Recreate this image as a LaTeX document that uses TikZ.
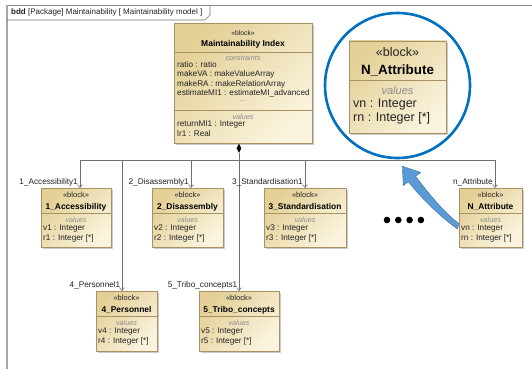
\documentclass[tikz,border=0pt]{standalone}
\usepackage{fontspec}
\setmainfont{Liberation Sans}
\usetikzlibrary{arrows.meta,shadows}
\definecolor{blkA}{RGB}{228,208,150}
\definecolor{blkB}{RGB}{250,244,222}
\definecolor{blkLine}{RGB}{168,146,100}
\definecolor{connC}{RGB}{110,110,110}
\definecolor{hlBlue}{RGB}{0,112,192}
\definecolor{arrFill}{RGB}{91,155,213}
\definecolor{arrEdge}{RGB}{65,113,156}
\definecolor{txtC}{RGB}{35,35,35}
\newcommand\sblk[8]{%
  \node[blk, minimum width=#4pt, minimum height=#5pt, anchor=north west] (#1) at (#2,#3) {};
  \draw[sepl] ([yshift=-25pt]#1.north west) -- ([yshift=-25pt]#1.north east);
  \node[stxt] (#1-st) at ([yshift=-6.5pt]#1.north) {«block»};
  \node[ttl] (#1-t) at ([yshift=-19pt]#1.north) {#6};
  \node[cmp] (#1-c) at ([yshift=-32pt]#1.north) {values};
  \node[attr] (#1-v) at ([xshift=2pt,yshift=-40.5pt]#1.north west) {v#7 : Integer};
  \node[attr] (#1-r) at ([xshift=2pt,yshift=-50.5pt]#1.north west) {r#7 : Integer [*]};
}
\begin{document}
\begin{tikzpicture}[x=1pt,y=-1pt,
  blk/.style={draw=blkLine, line width=0.6pt, top color=blkA, bottom color=blkB, shading angle=45,
    inner sep=0pt, outer sep=0pt,
    drop shadow={shadow xshift=1.6pt, shadow yshift=-1.6pt, fill=black!45, opacity=0.45}},
  sepl/.style={draw=blkLine, line width=0.6pt},
  stxt/.style={inner sep=0pt, font=\fontsize{7.5}{8}\selectfont, text=txtC},
  ttl/.style={inner sep=0pt, font=\fontsize{8.4}{9}\selectfont\bfseries, text=black},
  cmp/.style={inner sep=0pt, font=\fontsize{7.2}{8}\selectfont\itshape, text=black!45},
  attr/.style={inner sep=0pt, anchor=west, font=\fontsize{8.2}{9}\selectfont, text=txtC},
  lbl/.style={inner sep=0pt, anchor=east, font=\fontsize{8.2}{9}\selectfont, text=txtC},
  conn/.style={draw=connC, line width=0.6pt},
  arr/.style={-{Straight Barb[length=3pt,width=5pt]}},
]
\useasboundingbox (0,0) rectangle (532,369);
\fill[white] (0,0) rectangle (532,369);

% frame
\draw[black!45, line width=0.7pt] (532,5) -- (7,5);
\draw[black!35, line width=1.4pt] (7,5) -- (7,369);
\draw[black!55, line width=0.6pt] (7,20) -- (205,20) -- (210,15) -- (210,5);
\node[inner sep=0pt, anchor=west, font=\fontsize{8}{9}\selectfont, text=txtC] (frameT) at (11,12.5)
  {\textbf{bdd} [Package] Maintainability [ Maintainability model ]};

% main block
\node[blk, minimum width=138pt, minimum height=120pt, anchor=north west] (mi) at (174,23.5) {};
\draw[sepl] (174,52) -- (312,52);
\draw[sepl] (174,110) -- (312,110);
\node[stxt, font=\fontsize{6.8}{8}\selectfont] (mi-st) at (243,33) {«block»};
\node[ttl, font=\fontsize{8.5}{9}\selectfont\bfseries] (mi-t) at (243,44) {Maintainability Index};
\node[cmp] (mi-c) at (243,57.5) {constraints};
\node[attr] (mi-a1) at (177,65) {ratio : ratio};
\node[attr] (mi-a2) at (177,74.5) {makeVA : makeValueArray};
\node[attr] (mi-a3) at (177,84) {makeRA : makeRelationArray};
\node[attr] (mi-a4) at (177,93) {estimateMI1 : estimateMI\_advanced};
\node[cmp] (mi-d) at (243,101.5) {...};
\node[cmp] (mi-v) at (243,117) {values};
\node[attr] (mi-a5) at (177,124.5) {returnMI1 : Integer};
\node[attr] (mi-a6) at (177,133.5) {lr1 : Real};

% small blocks
\sblk{b1}{41}{188}{70}{59}{1\_Accessibility}{1}{}
\sblk{b2}{152}{188}{71}{59}{2\_Disassembly}{2}{}
\sblk{b3}{264}{188}{82}{59}{3\_Standardisation}{3}{}
\sblk{bN}{459}{188}{63}{59}{N\_Attribute}{n}{}
\sblk{b4}{96}{291}{61}{60}{4\_Personnel}{4}{}
\sblk{b5}{199}{291}{80}{60}{5\_Tribo\_concepts}{5}{}

% connectors
\coordinate (diaT) at (239,143.6);
\coordinate (diaB) at (239,153);
\fill[black] (diaT) -- (241.3,148.3) -- (diaB) -- (236.7,148.3) -- cycle;
\draw[conn,arr] (diaB) -- (b5.north -| diaB);
\coordinate (j1) at (80,160);
\coordinate (j2) at (191,160);
\coordinate (j3) at (305,160);
\coordinate (jN) at (495,160);
\coordinate (j4) at (122,160);
\draw[conn] (j1) -- (jN);
\draw[conn,arr] (j1) -- (j1 |- b1.north);
\draw[conn,arr] (j2) -- (j2 |- b2.north);
\draw[conn,arr] (j3) -- (j3 |- b3.north);
\draw[conn,arr] (jN) -- (jN |- bN.north);
\draw[conn,arr] (j4) -- (j4 |- b4.north);

\node[lbl] (l1) at (78,182) {1\_Accessibility1};
\node[lbl] (l2) at (189,182) {2\_Disassembly1};
\node[lbl] (l3) at (303,182) {3\_Standardisation1};
\node[lbl] (lN) at (493,182) {n\_Attribute};
\node[lbl] (l4) at (120.5,285) {4\_Personnel1};
\node[lbl] (l5) at (237.5,285) {5\_Tribo\_concepts1};

% dots
\foreach \dx in {387,398.3,409.6,420.9} \fill[black] (\dx,220) circle[radius=3.3pt];

% highlight
\node[draw=hlBlue, line width=2.6pt, circle, minimum size=145pt, inner sep=0pt] (hl) at (397.5,85.5) {};
\node[blk, minimum width=97pt, minimum height=92pt, anchor=north west] (big) at (349,41) {};
\draw[sepl] (349,80) -- (446,80);
\node[inner sep=0pt, font=\fontsize{12.5}{13}\selectfont, text=txtC] (big-st) at (397.5,52.5) {«block»};
\node[inner sep=0pt, font=\fontsize{13.4}{14}\selectfont\bfseries] (big-t) at (397.5,70) {N\_Attribute};
\node[inner sep=0pt, font=\fontsize{11}{12}\selectfont\itshape, text=black!45] (big-c) at (397.5,91) {values};
\node[inner sep=0pt, anchor=west, font=\fontsize{12.5}{13}\selectfont, text=txtC] (big-v) at (353,104) {vn : Integer};
\node[inner sep=0pt, anchor=west, font=\fontsize{12.5}{13}\selectfont, text=txtC] (big-r) at (353,118) {rn : Integer [*]};

% blue arrow
\filldraw[fill=arrFill, draw=arrEdge, line width=0.4pt]
  (459,223.5) .. controls (443,212) and (424,187.5) .. (415.6,176.3)
  -- (420.8,172.4) -- (402.4,166.2) -- (403.2,185.6) -- (408.4,181.7)
  .. controls (418,194.5) and (439,216) .. (457.5,229) -- cycle;
\end{tikzpicture}
\end{document}
